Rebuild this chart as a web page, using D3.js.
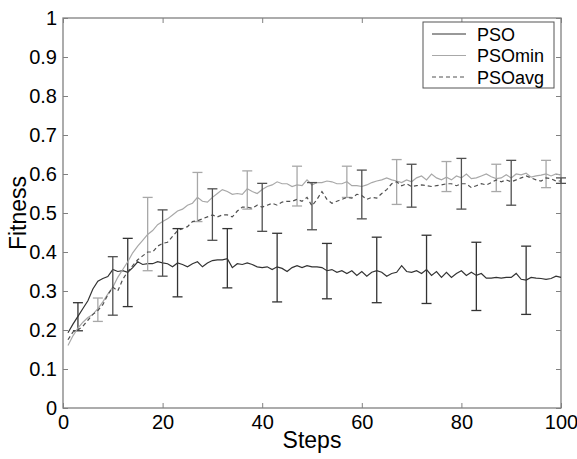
<!DOCTYPE html>
<html>
<head>
<meta charset="utf-8">
<script src="https://cdn.jsdelivr.net/npm/d3@7"></script>
<style>
  body { margin: 0; background: #fff; }
  text { font-family: "Liberation Sans", Arial, sans-serif; }
</style>
</head>
<body>
<script>
var width = 577;
var height = 459;
var margin = {left: 63, top: 18, right: 16, bottom: 51};

// step number of each value is its index + 1
var psoValues = [
  0.193, 0.215, 0.235, 0.255, 0.275, 0.305, 0.325, 0.332, 0.337, 0.355,
  0.350, 0.352, 0.348, 0.360, 0.375, 0.368, 0.370, 0.370, 0.375, 0.372,
  0.370, 0.362, 0.372, 0.368, 0.362, 0.370, 0.375, 0.362, 0.372, 0.378,
  0.380, 0.380, 0.383, 0.360, 0.370, 0.368, 0.372, 0.368, 0.362, 0.360,
  0.362, 0.355, 0.362, 0.358, 0.350, 0.360, 0.365, 0.360, 0.365, 0.362,
  0.362, 0.360, 0.352, 0.355, 0.348, 0.352, 0.345, 0.352, 0.340, 0.350,
  0.338, 0.348, 0.352, 0.348, 0.338, 0.345, 0.348, 0.365, 0.350, 0.348,
  0.352, 0.345, 0.355, 0.340, 0.350, 0.335, 0.348, 0.335, 0.345, 0.352,
  0.340, 0.348, 0.340, 0.345, 0.333, 0.333, 0.335, 0.333, 0.335, 0.335,
  0.345, 0.330, 0.328, 0.335, 0.333, 0.332, 0.330, 0.332, 0.338, 0.335
];
var psoMinValues = [
  0.160, 0.185, 0.205, 0.220, 0.232, 0.240, 0.255, 0.272, 0.292, 0.310,
  0.335, 0.355, 0.375, 0.398, 0.415, 0.430, 0.445, 0.455, 0.470, 0.478,
  0.485, 0.495, 0.505, 0.510, 0.520, 0.525, 0.540, 0.530, 0.528, 0.540,
  0.550, 0.560, 0.555, 0.548, 0.550, 0.548, 0.562, 0.555, 0.550, 0.560,
  0.568, 0.572, 0.580, 0.575, 0.575, 0.568, 0.572, 0.570, 0.585, 0.572,
  0.578, 0.578, 0.582, 0.580, 0.575, 0.575, 0.580, 0.570, 0.570, 0.568,
  0.572, 0.578, 0.582, 0.585, 0.590, 0.585, 0.582, 0.578, 0.585, 0.580,
  0.590, 0.595, 0.585, 0.600, 0.590, 0.585, 0.592, 0.585, 0.595, 0.590,
  0.600, 0.588, 0.590, 0.595, 0.600, 0.593, 0.588, 0.590, 0.598, 0.590,
  0.600, 0.598, 0.602, 0.592, 0.595, 0.597, 0.600, 0.595, 0.600, 0.597
];
var psoAvgValues = [
  0.175, 0.195, 0.200, 0.210, 0.225, 0.240, 0.250, 0.265, 0.290, 0.310,
  0.300, 0.330, 0.350, 0.365, 0.380, 0.390, 0.400, 0.400, 0.415, 0.422,
  0.425, 0.440, 0.455, 0.460, 0.465, 0.478, 0.480, 0.485, 0.490, 0.495,
  0.490, 0.495, 0.495, 0.490, 0.505, 0.515, 0.515, 0.512, 0.520, 0.515,
  0.520, 0.525, 0.520, 0.528, 0.530, 0.530, 0.535, 0.530, 0.540, 0.518,
  0.535, 0.555, 0.535, 0.525, 0.530, 0.535, 0.540, 0.538, 0.548, 0.545,
  0.535, 0.540, 0.538, 0.550, 0.560, 0.575, 0.580, 0.570, 0.575, 0.568,
  0.570, 0.572, 0.570, 0.568, 0.570, 0.572, 0.575, 0.575, 0.570, 0.575,
  0.575, 0.565, 0.570, 0.575, 0.572, 0.578, 0.585, 0.580, 0.585, 0.580,
  0.585, 0.590, 0.595, 0.590, 0.585, 0.582, 0.590, 0.588, 0.582, 0.582
];

// error bars
var psoBarSteps = [3, 13, 23, 33, 43, 53, 63, 73, 83, 93];
var psoBarLow   = [0.198, 0.260, 0.285, 0.308, 0.272, 0.280, 0.270, 0.268, 0.250, 0.240];
var psoBarHigh  = [0.270, 0.435, 0.460, 0.460, 0.448, 0.422, 0.438, 0.443, 0.425, 0.415];

var psoMinBarSteps = [7, 17, 27, 37, 47, 57, 67, 77, 87, 97];
var psoMinBarLow   = [0.222, 0.352, 0.478, 0.510, 0.518, 0.540, 0.522, 0.555, 0.555, 0.565];
var psoMinBarHigh  = [0.282, 0.540, 0.604, 0.608, 0.620, 0.620, 0.637, 0.632, 0.625, 0.635];

var psoAvgBarSteps = [10, 20, 30, 40, 50, 60, 70, 80, 90, 100];
var psoAvgBarLow   = [0.238, 0.338, 0.430, 0.453, 0.457, 0.485, 0.515, 0.510, 0.520, 0.576];
var psoAvgBarHigh  = [0.388, 0.508, 0.562, 0.576, 0.578, 0.610, 0.625, 0.640, 0.635, 0.590];

var xTicks = [0, 20, 40, 60, 80, 100];
var yTicks = [0, 0.1, 0.2, 0.3, 0.4, 0.5, 0.6, 0.7, 0.8, 0.9, 1];
var seriesNames = ["PSO", "PSOmin", "PSOavg"];

var series = [
  {name: "PSO", values: psoValues, color: "#333", dash: null,
   bars: {steps: psoBarSteps, low: psoBarLow, high: psoBarHigh}},
  {name: "PSOmin", values: psoMinValues, color: "#a8a8a8", dash: null,
   bars: {steps: psoMinBarSteps, low: psoMinBarLow, high: psoMinBarHigh}},
  {name: "PSOavg", values: psoAvgValues, color: "#505050", dash: "4,3",
   bars: {steps: psoAvgBarSteps, low: psoAvgBarLow, high: psoAvgBarHigh}}
];

var plotW = width - margin.left - margin.right;
var plotH = height - margin.top - margin.bottom;

var svg = d3.select("body").append("svg")
    .attr("width", width)
    .attr("height", height);

var g = svg.append("g")
    .attr("transform", "translate(" + margin.left + "," + margin.top + ")");

var x = d3.scaleLinear().domain([0, 100]).range([0, plotW]);
var y = d3.scaleLinear().domain([0, 1]).range([plotH, 0]);

var axisColor = "#808080";

// axes, ticks point inwards like matlab
function styleAxis(sel) {
    sel.select(".domain").remove();
    sel.selectAll(".tick line").attr("stroke", axisColor);
    sel.selectAll(".tick text").attr("fill", "#000").attr("font-size", "20px")
        .attr("font-family", "'Liberation Sans', Arial, sans-serif");
}

g.append("g")
    .attr("transform", "translate(0," + plotH + ")")
    .call(d3.axisBottom(x).tickValues(xTicks).tickSize(-5).tickPadding(7).tickFormat(d3.format("d")))
    .call(styleAxis);
g.append("g")
    .call(d3.axisTop(x).tickValues(xTicks).tickSize(-5).tickFormat(""))
    .call(styleAxis);
g.append("g")
    .call(d3.axisLeft(y).tickValues(yTicks).tickSize(-5).tickPadding(6).tickFormat(d => d === 0 || d === 1 ? d : d3.format(".1f")(d)))
    .call(styleAxis);
g.append("g")
    .attr("transform", "translate(" + plotW + ",0)")
    .call(d3.axisRight(y).tickValues(yTicks).tickSize(-5).tickFormat(""))
    .call(styleAxis);

g.append("rect")
    .attr("width", plotW)
    .attr("height", plotH)
    .attr("fill", "none")
    .attr("stroke", axisColor)
    .attr("stroke-width", 1.3);

var line = d3.line()
    .x((d, i) => x(i + 1))
    .y(d => y(d));

var CAP = 5;

series.forEach(function(s) {
    g.append("path")
        .datum(s.values)
        .attr("d", line)
        .attr("fill", "none")
        .attr("stroke", s.color)
        .attr("stroke-width", 1.2)
        .attr("stroke-dasharray", s.dash);

    var barData = s.bars.steps.map((st, i) => ({step: st, low: s.bars.low[i], high: s.bars.high[i]}));
    var bg = g.append("g").attr("stroke", s.color).attr("stroke-width", 1.3);
    bg.selectAll(".v").data(barData).enter().append("line")
        .attr("x1", d => x(d.step)).attr("x2", d => x(d.step))
        .attr("y1", d => y(d.low)).attr("y2", d => y(d.high));
    bg.selectAll(".lo").data(barData).enter().append("line")
        .attr("x1", d => x(d.step) - CAP).attr("x2", d => x(d.step) + CAP)
        .attr("y1", d => y(d.low)).attr("y2", d => y(d.low));
    bg.selectAll(".hi").data(barData).enter().append("line")
        .attr("x1", d => x(d.step) - CAP).attr("x2", d => x(d.step) + CAP)
        .attr("y1", d => y(d.high)).attr("y2", d => y(d.high));
});

// legend
var legend = svg.append("g").attr("transform", "translate(423,22)");
legend.append("rect")
    .attr("width", 131)
    .attr("height", 66)
    .attr("fill", "#fff")
    .attr("stroke", "#555");
series.forEach(function(s, i) {
    var ly = 12 + i * 21.5;
    legend.append("line")
        .attr("x1", 9).attr("x2", 43)
        .attr("y1", ly).attr("y2", ly)
        .attr("stroke", s.color)
        .attr("stroke-width", 1)
        .attr("stroke-dasharray", s.dash);
    legend.append("text")
        .attr("x", 54)
        .attr("y", ly + 6.5)
        .attr("font-size", "18px")
        .text(seriesNames[i]);
});

// axis titles
svg.append("text")
    .attr("x", margin.left + plotW / 2)
    .attr("y", 448)
    .attr("text-anchor", "middle")
    .attr("font-size", "23px")
    .text("Steps");
svg.append("text")
    .attr("transform", "translate(26," + (margin.top + plotH / 2) + ") rotate(-90)")
    .attr("text-anchor", "middle")
    .attr("font-size", "23px")
    .text("Fitness");
</script>
</body>
</html>
